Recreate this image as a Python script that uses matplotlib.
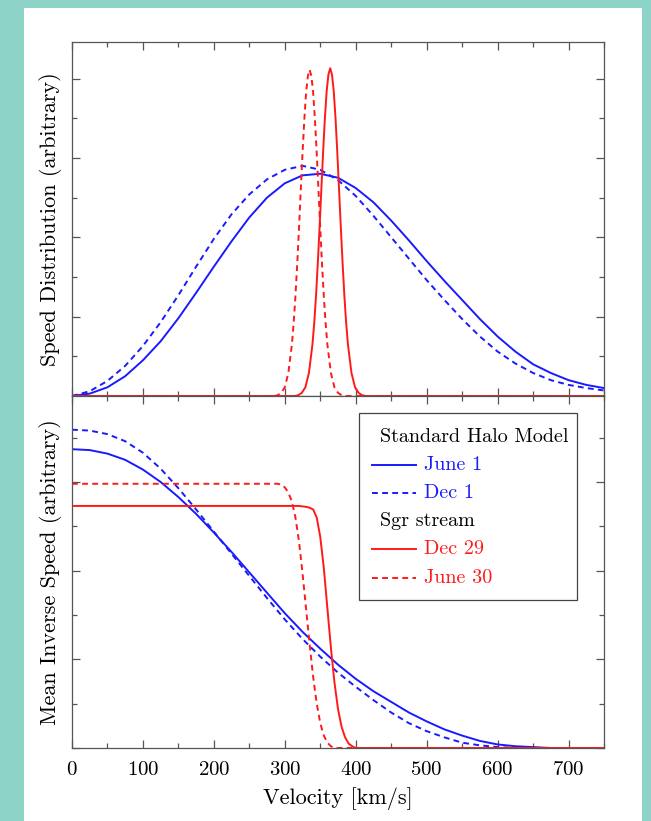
import numpy as np
import matplotlib
matplotlib.use("Agg")
import matplotlib.pyplot as plt
from matplotlib.lines import Line2D
from matplotlib.patches import Rectangle
from matplotlib.ticker import MultipleLocator

plt.rcParams['font.family'] = ['cmr10', 'DejaVu Serif']
plt.rcParams['mathtext.fontset'] = 'cm'
plt.rcParams['axes.formatter.use_mathtext'] = True

# ---- data: speed distribution (top) ----
v_shm = [0, 25, 50, 75, 100, 125, 150, 175, 200, 225, 250, 275, 300, 325, 350, 375,
         400, 425, 450, 475, 500, 525, 550, 575, 600, 625, 650, 675, 700, 725, 750]
f_june1 = [0.00, 0.03, 0.11, 0.25, 0.45, 0.69, 0.98, 1.30, 1.63, 1.95, 2.25, 2.50, 2.68, 2.78,
           2.80, 2.75, 2.62, 2.44, 2.21, 1.96, 1.70, 1.45, 1.21, 0.97, 0.75, 0.56, 0.40, 0.29,
           0.20, 0.14, 0.10]
f_dec1 = [0.00, 0.06, 0.19, 0.38, 0.63, 0.93, 1.27, 1.63, 1.98, 2.29, 2.54, 2.73, 2.85, 2.90,
          2.85, 2.72, 2.52, 2.27, 2.00, 1.73, 1.46, 1.21, 0.97, 0.75, 0.56, 0.41, 0.29, 0.20,
          0.14, 0.10, 0.07]

v_dec29_f = [0, 314, 319, 324, 329, 334, 339, 341.5, 344, 346.5, 349, 351.5, 354, 356.5, 359,
             361.5, 364, 366.5, 369, 371.5, 374, 376.5, 379, 381.5, 384, 386.5, 389, 394, 399,
             404, 409, 414, 750]
f_dec29 = [0, 0, 0.01, 0.04, 0.11, 0.29, 0.65, 0.92, 1.26, 1.67, 2.12, 2.60, 3.07, 3.50, 3.84,
           4.05, 4.13, 4.05, 3.84, 3.50, 3.07, 2.60, 2.12, 1.67, 1.26, 0.92, 0.65, 0.29, 0.11,
           0.04, 0.01, 0, 0]
v_june30_f = [0, 285, 290, 295, 300, 305, 310, 312.5, 315, 317.5, 320, 322.5, 325, 327.5, 330,
              332.5, 335, 337.5, 340, 342.5, 345, 347.5, 350, 352.5, 355, 357.5, 360, 365, 370,
              375, 380, 385, 750]
f_june30 = [0, 0, 0.01, 0.04, 0.11, 0.29, 0.65, 0.92, 1.26, 1.66, 2.11, 2.59, 3.06, 3.48, 3.82,
            4.03, 4.11, 4.03, 3.82, 3.48, 3.06, 2.59, 2.11, 1.66, 1.26, 0.92, 0.65, 0.29, 0.11,
            0.04, 0.01, 0, 0]

# ---- data: mean inverse speed (bottom) ----
eta_june1 = [3.37, 3.36, 3.32, 3.25, 3.14, 3.00, 2.83, 2.64, 2.43, 2.21, 1.98, 1.75, 1.52, 1.31,
             1.12, 0.94, 0.78, 0.64, 0.52, 0.40, 0.30, 0.21, 0.14, 0.08, 0.04, 0.02, 0.01, 0.0,
             0.0, 0.0, 0.0]
eta_dec1 = [3.59, 3.58, 3.54, 3.46, 3.33, 3.15, 2.93, 2.69, 2.44, 2.19, 1.94, 1.69, 1.45, 1.23,
            1.03, 0.85, 0.69, 0.54, 0.40, 0.28, 0.19, 0.12, 0.06, 0.03, 0.01, 0.0, 0.0, 0.0,
            0.0, 0.0, 0.0]
v_dec29_e = [0, 320, 330, 335, 340, 345, 350, 355, 360, 365, 370, 375, 380, 385, 390, 395, 400, 750]
eta_dec29 = [2.73, 2.73, 2.72, 2.71, 2.69, 2.60, 2.38, 2.03, 1.58, 1.13, 0.74, 0.44, 0.24, 0.12,
             0.05, 0.02, 0.0, 0.0]
v_june30_e = [0, 290, 295, 300, 305, 310, 315, 320, 325, 330, 335, 340, 345, 350, 355, 360, 365,
              370, 750]
eta_june30 = [2.98, 2.98, 2.97, 2.94, 2.88, 2.78, 2.60, 2.33, 1.97, 1.57, 1.17, 0.80, 0.50, 0.28,
              0.14, 0.06, 0.02, 0.0, 0.0]

blue = '#1a1aff'
red = '#ff1a1a'
teal = '#8dd3c7'
lw = 1.4
dash = (3, 2.2)

fig = plt.figure(figsize=(6.51, 8.21), dpi=100)
fig.patch.set_facecolor(teal)
fig.patches.append(Rectangle((24 / 651, 0), (642 - 24) / 651, (821 - 8) / 821,
                             transform=fig.transFigure, facecolor='white',
                             edgecolor='none', zorder=-10))

ax1 = fig.add_axes([72 / 651, (821 - 396) / 821, 532 / 651, 354 / 821])
ax2 = fig.add_axes([72 / 651, (821 - 748) / 821, 532 / 651, 352 / 821])

ax1.plot(v_shm, f_june1, color=blue, lw=lw)
ax1.plot(v_shm, f_dec1, color=blue, lw=lw, dashes=dash)
ax1.plot(v_dec29_f, f_dec29, color=red, lw=lw)
ax1.plot(v_june30_f, f_june30, color=red, lw=lw, dashes=dash)

ax2.plot(v_shm, eta_june1, color=blue, lw=lw)
ax2.plot(v_shm, eta_dec1, color=blue, lw=lw, dashes=dash)
ax2.plot(v_dec29_e, eta_dec29, color=red, lw=lw)
ax2.plot(v_june30_e, eta_june30, color=red, lw=lw, dashes=dash)

ax1.set_ylim(0, 4.46)
ax2.set_ylim(0, 3.97)
for ax in (ax1, ax2):
    ax.set_xlim(0, 750)
    ax.xaxis.set_major_locator(MultipleLocator(100))
    ax.xaxis.set_minor_locator(MultipleLocator(50))
    ax.yaxis.set_major_locator(MultipleLocator(1))
    ax.yaxis.set_minor_locator(MultipleLocator(0.5))
    ax.tick_params(which='both', direction='in', top=True, right=True, colors='#555555',
                   labelcolor='black', labelsize=15, width=0.9)
    ax.tick_params(which='major', length=6)
    ax.tick_params(which='minor', length=3.5)
    ax.set_yticklabels([])
    for s in ax.spines.values():
        s.set_color('#555555')
        s.set_linewidth(0.9)
ax1.set_xticklabels([])
ax2.tick_params(axis='x', pad=9)

ax1.set_ylabel('Speed Distribution (arbitrary)', fontsize=16, labelpad=4)
ax2.set_ylabel('Mean Inverse Speed (arbitrary)', fontsize=16, labelpad=4)
ax2.set_xlabel('Velocity [km/s]', fontsize=16, labelpad=6)

# legend with group headers
t = ax2.transAxes
ax2.add_patch(Rectangle((0.5395, 0.420), 0.4095, 0.5317, transform=t, facecolor='white',
                        edgecolor='#444444', lw=0.9, zorder=5))
rows = [('Standard Halo Model', None, None),
        ('June 1', blue, None),
        ('Dec 1', blue, dash),
        ('Sgr stream', None, None),
        ('Dec 29', red, None),
        ('June 30', red, dash)]
ys = [0.8835, 0.804, 0.7244, 0.6449, 0.5653, 0.483]
for (label, col, ds), y in zip(rows, ys):
    if col is None:
        ax2.text(0.579, y, label, transform=t, fontsize=14.5, va='center', ha='left',
                 color='black', zorder=6)
    else:
        ln = Line2D([0.564, 0.647], [y, y], transform=t, color=col, lw=lw, zorder=6)
        if ds is not None:
            ln.set_dashes(ds)
        ax2.add_line(ln)
        ax2.text(0.6617, y, label, transform=t, fontsize=14.5, va='center', ha='left',
                 color=col, zorder=6)

fig.savefig('out.png', dpi=100, facecolor=teal)
